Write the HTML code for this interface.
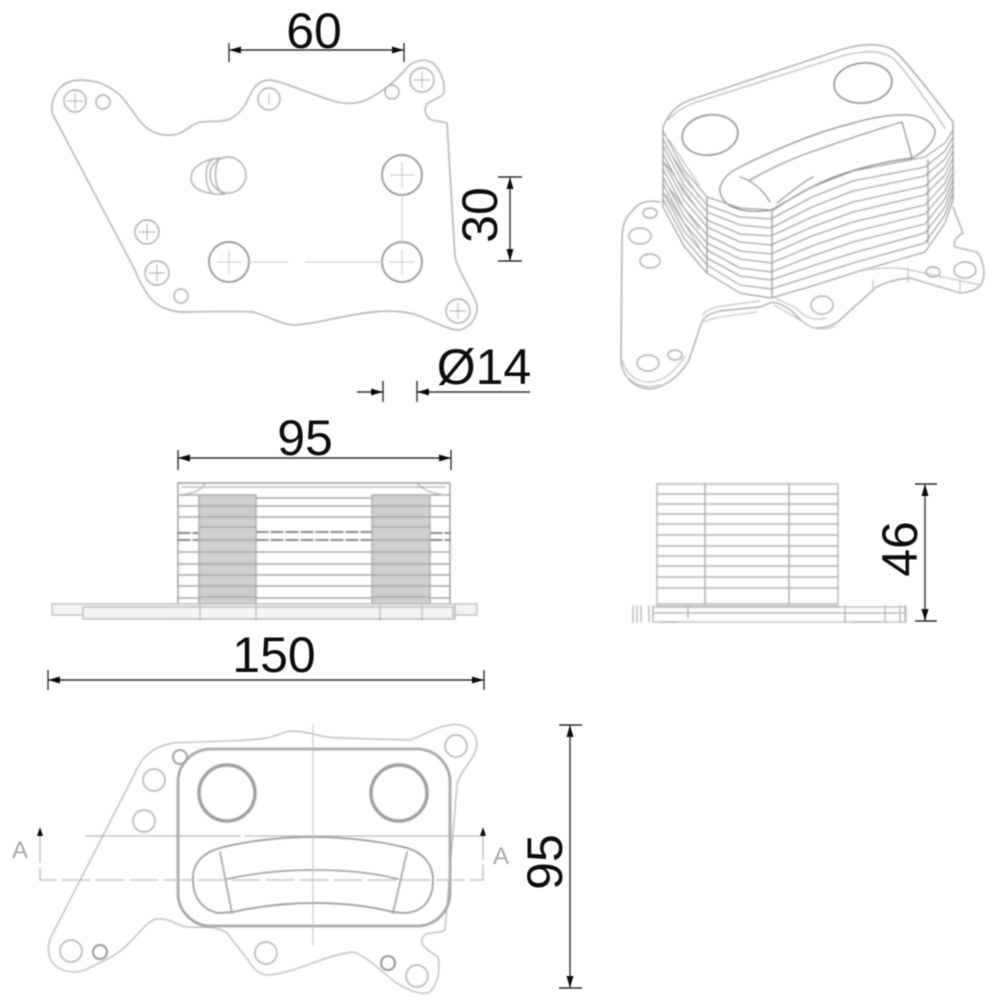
<!DOCTYPE html>
<html><head><meta charset="utf-8"><style>
html,body{margin:0;padding:0;background:#fff}
svg{display:block}
text{font-family:"Liberation Sans",sans-serif;fill:#111}
</style></head><body>
<svg width="1000" height="1000" viewBox="0 0 1000 1000" xmlns="http://www.w3.org/2000/svg">
<defs>
<filter id="b" x="-5%" y="-5%" width="110%" height="110%"><feGaussianBlur stdDeviation="0.85"/></filter>
<filter id="t" x="-5%" y="-5%" width="110%" height="110%"><feGaussianBlur stdDeviation="0.5"/></filter>
</defs>

<g filter="url(#b)" fill="none" stroke="#acacac" stroke-width="1.4" stroke-linejoin="round" stroke-linecap="round">
<!-- top plate -->
<path d="M52 105C55 88 66 80 80 80C96 80 108 85 120 95C132 108 140 125 150 130C160 136 170 136 178 134C186 131 192 124 200 122C212 121 222 122 230 119C240 114 245 106 250 95C254 86 260 80 270 80C285 82 315 96 337 102C350 105 362 103 372 97C384 90 395 82 405 70C412 60 425 58 433 63C441 70 445 82 444 92C443 98 432 99 427 104C423 110 426 118 432 120L447 123L455 257C460 275 472 290 477 305C478 318 470 327 460 330C448 330 435 322 417 315C400 310 385 311 373 312C345 315 310 325 293 325C280 324 268 316 253 312C235 311 200 312 180 312C165 310 155 305 148 295C143 287 140 283 135 270L52 113Z"/>
<circle cx="75" cy="101" r="11"/><circle cx="103" cy="102" r="7"/><circle cx="269" cy="99" r="11"/><circle cx="392" cy="92" r="7"/><circle cx="422" cy="80" r="12"/><circle cx="147" cy="232" r="12"/><circle cx="157" cy="273" r="12"/><circle cx="181" cy="296" r="7"/><circle cx="458" cy="311" r="12"/>
<path d="M67 101H83M75 93V109M414 80H430M422 72V88M139 232H155M147 224V240M149 273H165M157 265V281M450 311H466M458 303V319M269 94V104" stroke-width="0.9"/>
<g stroke="#8f8f8f" stroke-width="1.7"><circle cx="402" cy="175" r="20"/><circle cx="402" cy="262" r="20"/><circle cx="229" cy="262" r="20"/></g>
<path d="M390 175H414M402 163V187M390 262H414M402 250V274M217 262H241M229 250V274M249 262H288M305 262H382M402 195V242" stroke-width="0.9" stroke="#c4c4c4"/>
<path d="M222 158C209 158 191 165 191 178C191 190 208 195 225 194M212 160C204 165 204 185 212 193M220 158C214 166 213 184 222 193"/>
<ellipse cx="228" cy="175" rx="18" ry="18"/>

<!-- iso base plate -->
<path d="M660 202C650 200 640 201 633 210C625 218 622 225 622 240L621 360C622 375 632 388 650 389C665 388 680 375 688 362C695 345 698 330 703 320C706 315 712 313 720 311L760 307L773 302C782 304 788 308 793 312C800 320 808 327 815 328C825 328 833 326 840 320L875 288C885 282 898 279 910 278L960 293C970 292 978 290 982 283C985 275 985 262 977 252L955 247C953 242 955 238 963 233L953 207"/>
<path d="M622 360C628 378 640 383 652 382C664 380 675 372 685 356M703 315C706 309 716 307 722 306L760 301M775 298L796 308C805 318 815 321 826 318M820 281C850 270 890 265 910 270L980 285M625 375C635 385 645 389 660 385M704 322C710 318 720 317 757 312M774 305L800 320C810 328 820 332 836 326M873 280V292M908 268V282M960 280V293" stroke="#c4c4c4" stroke-width="1.2"/>
<g><ellipse cx="650" cy="213" rx="7" ry="5"/><ellipse cx="640" cy="236" rx="11" ry="8"/><ellipse cx="650" cy="261" rx="10" ry="7"/><ellipse cx="675" cy="355" rx="7" ry="5"/><ellipse cx="648" cy="363" rx="11" ry="8"/><ellipse cx="822" cy="305" rx="11" ry="9"/><ellipse cx="933" cy="272" rx="7" ry="5"/><ellipse cx="965" cy="270" rx="11" ry="8"/></g>

<!-- iso stack -->
<path fill="#fff" stroke="none" d="M663 127C670 110 680 104 690 100L840 50C860 44 880 42 893 50C905 58 945 112 953 122L953 200C950 225 945 245 930 252L770 298L740 293L707 273L663 207Z"/>
<path stroke="#a0a0a0" d="M663 127C670 110 680 104 690 100L840 50C860 44 880 42 893 50C905 58 945 112 953 122L953 200M663 127V207"/>
<g stroke="#9c9c9c" stroke-width="1.3">
<polyline points="663,131 684,170 707,197 740,208 771,210 812,187 853,171 925,157 945,143 953,130"/>
<polyline points="663,139 684,178 707,205 740,217 771,219 812,197 853,181 925,167 945,151 953,137"/>
<polyline points="663,146 684,185 707,212 740,225 771,228 812,207 853,191 925,176 945,159 953,144"/>
<polyline points="663,154 684,193 707,220 740,234 771,236 812,217 853,202 925,186 945,167 953,151"/>
<polyline points="663,161 684,200 707,227 740,242 771,245 812,227 853,212 925,195 945,175 953,158"/>
<polyline points="663,169 684,208 707,235 740,251 771,254 812,236 853,222 925,205 945,183 953,165"/>
<polyline points="663,177 684,216 707,243 740,259 771,263 812,246 853,232 925,214 945,191 953,172"/>
<polyline points="663,184 684,223 707,250 740,268 771,272 812,256 853,242 925,224 945,199 953,179"/>
<polyline points="663,192 684,231 707,258 740,276 771,280 812,266 853,253 925,233 945,207 953,186"/>
<polyline points="663,199 684,238 707,265 740,285 771,289 812,276 853,263 925,243 945,215 953,193"/>
<polyline points="663,207 684,246 707,273 740,293 771,298 812,286 853,273 925,252 945,223 953,200"/>
</g>
<path d="M669 140L699 185M666 146L699 197M666 164L699 211M665 182L699 229M666 195L699 247" stroke="#aaa" stroke-width="1.1"/>
<path d="M707 197V273M772 212V298M928 160V243" stroke="#999"/>
<path d="M668 120C680 108 690 104 700 101L842 56C865 50 880 50 893 58C905 70 930 105 945 128" stroke="#bbb"/>
<ellipse cx="710" cy="135" rx="28" ry="20" transform="rotate(-8 710 135)" stroke="#8f8f8f" stroke-width="1.8"/>
<ellipse cx="863" cy="83" rx="29" ry="20" transform="rotate(-6 863 83)" stroke="#8f8f8f" stroke-width="1.8"/>
<path d="M720 187C724 176 732 171 740 167C770 152 813 133 850 124C870 118 885 115 900 115C915 114 930 118 935 130C936 140 925 152 912 158C880 162 840 172 812 187C795 195 785 203 773 210C760 212 745 212 735 208C725 205 719 196 720 187Z" stroke="#8f8f8f" stroke-width="1.5"/>
<path d="M750 180C775 166 795 157 817 150C845 140 875 130 902 122C906 135 909 148 912 158M740 177C750 180 762 188 770 202M777 203C790 193 800 184 813 177" stroke="#8f8f8f"/>

<!-- section view -->
<rect x="178" y="483" width="272" height="121" stroke="#999"/>
<path d="M178 495H199M430 495H450M178 506H199M430 506H450M178 517H199M430 517H450M178 552H199M430 552H450M178 564H199M430 564H450M178 575H199M430 575H450M178 586H199M430 586H450M178 598H199M430 598H450M256 498H372M256 506H372M256 517H372M256 552H372M256 564H372M256 575H372M256 586H372M256 598H372" stroke="#a4a4a4"/>
<path d="M178 533H199M430 533H450M178 540H199M430 540H450M256 532H372M256 540H372" stroke="#666" stroke-width="1.5" stroke-dasharray="12 3"/>
<path d="M182 487H445M185 494C195 493 200 490 205 484M418 484C424 490 430 493 445 495" stroke="#bbb"/>
<rect x="199" y="495" width="57" height="109" fill="#cfcfcf" stroke="#aaa"/>
<rect x="372" y="495" width="58" height="109" fill="#cfcfcf" stroke="#aaa"/>
<path d="M199 506H256M199 517H256M199 527H256M199 540H256M199 552H256M199 564H256M199 575H256M199 586H256M199 597H256M372 506H430M372 517H430M372 527H430M372 540H430M372 552H430M372 564H430M372 575H430M372 586H430M372 597H430" stroke="#a0a0a0" stroke-width="1.2"/>
<rect x="52" y="604" width="425" height="11" stroke="#c0c0c0" fill="#f4f4f4"/>
<rect x="83" y="607" width="370" height="12" stroke="#bbb" fill="#f4f4f4"/>
<path d="M200 604V620M256 604V620M380 604V620M422 604V620M455 604V620M170 619H190" stroke="#bbb"/>

<!-- side view -->
<rect x="657" y="484" width="181" height="120" stroke="#b8b8b8"/>
<path d="M657 494H838M657 504H838M657 514H838M657 524H838M657 535H838M657 546H838M657 556H838M657 566H838M657 577H838M657 588H838" stroke="#b4b4b4" stroke-width="1.4"/>
<path d="M705 484V604M789 484V604" stroke="#aaa" stroke-width="1.4"/>
<rect x="656" y="604" width="183" height="4" fill="#ccc" stroke="none"/>
<rect x="653" y="607" width="253" height="15" stroke="#c4c4c4"/>
<path d="M653 613H905M633 606V622M637 606V622M641 606V622M649 606V622M653 606V622M688 606V618M845 606V622M885 606V622M900 606V622M905 606V622M660 622H678M852 622H880" stroke="#b8b8b8"/>

<!-- bottom view -->
<path d="M173 743C205 741 240 742 267 738C280 735 285 731 292 731C310 731 320 738 340 738L410 740C425 735 435 727 450 725C465 722 477 732 477 745C475 760 460 770 457 785L445 930C438 935 428 930 423 937C418 945 428 950 438 957C441 970 437 985 430 992C420 996 408 990 395 982C380 970 365 955 353 952C325 955 290 975 267 975C258 973 254 970 248 960L227 933C215 925 200 928 187 927C175 925 170 918 158 919C148 920 142 930 130 942C115 958 100 962 85 970C70 975 55 970 50 958C47 950 48 943 52 935L133 777C140 760 150 747 173 743Z" stroke="#bdbdbd"/>
<rect x="178" y="749" width="272" height="177" rx="33" ry="33" stroke="#a8a8a8" stroke-width="2.8"/>
<circle cx="227" cy="793" r="28" stroke="#a0a0a0" stroke-width="3.5"/>
<circle cx="399" cy="793" r="28" stroke="#a0a0a0" stroke-width="3.5"/>
<path d="M193 880C192 862 205 852 220 848C250 840 285 837 313 837C345 837 380 841 407 848C424 853 433 865 433 880C433 900 423 912 405 913L393 912C365 905 340 903 313 903C285 903 260 906 233 912L218 913C203 910 193 898 193 880Z" stroke="#999" stroke-width="1.7"/>
<path d="M227 879C255 873 285 870 313 870C345 870 375 873 398 879M220 852L232 913M407 852L393 913" stroke="#999" stroke-width="1.5"/>
<g><circle cx="180" cy="757" r="7" stroke="#999" stroke-width="1.8"/><circle cx="154" cy="780" r="11"/><circle cx="144" cy="821" r="11"/><circle cx="456" cy="746" r="11"/><circle cx="71" cy="951" r="11"/><circle cx="100" cy="952" r="7" stroke="#888" stroke-width="1.8"/><circle cx="266" cy="953" r="11"/><circle cx="388" cy="963" r="7" stroke="#888" stroke-width="1.8"/><circle cx="417" cy="976" r="11"/></g>
<path d="M85 836H240M245 836H480" stroke="#aaa" stroke-width="1"/>
<path d="M40 834V880H483V834" stroke="#bbb" stroke-width="1.3" stroke-dasharray="28 6"/>
<path d="M313 725V945" stroke="#c0c0c0" stroke-width="1"/>
</g>

<!-- dimensions -->
<g filter="url(#t)" stroke="#333" stroke-width="1.4" fill="none">
<path d="M229 50H404M229 43V62M404 43V62"/>
<path d="M510 177V261M498 177H522M498 261H522"/>
<path d="M357 392H383M417 392H530M383 381V402M417 381V402"/>
<path d="M178 458H451M178 450V470M451 450V470"/>
<path d="M48 680H484M48 670V690M484 670V690"/>
<path d="M925 484V621M915 484H937M915 621H937"/>
<path d="M570 725V988M559 725H582M559 988H582"/>
<g fill="#111" stroke="none">
<path d="M229 50l12-3.500v7zM404 50l-12-3.500v7z"/>
<path d="M510 177l-3.500 12h7zM510 261l-3.500-12h7z"/>
<path d="M383 392l-12-3.500v7zM417 392l12-3.500v7z"/>
<path d="M178 458l12-3.500v7zM451 458l-12-3.500v7z"/>
<path d="M48 680l12-3.500v7zM484 680l-12-3.500v7z"/>
<path d="M925 484l-3.500 12h7zM925 621l-3.500-12h7z"/>
<path d="M570 725l-3.500 12h7zM570 988l-3.500-12h7z"/>
<path d="M40 827l-3 9h6zM483 827l-3 9h6z"/>
</g>
</g>
<g filter="url(#t)">
<text x="314" y="48" font-size="50" text-anchor="middle">60</text>
<text x="305" y="455" font-size="50" text-anchor="middle">95</text>
<text x="274" y="672" font-size="50" text-anchor="middle">150</text>
<text x="484" y="384" font-size="50" text-anchor="middle">Ø14</text>
<text transform="translate(497 215) rotate(-90)" font-size="50" text-anchor="middle">30</text>
<text transform="translate(917 549) rotate(-90)" font-size="50" text-anchor="middle">46</text>
<text transform="translate(562 862) rotate(-90)" font-size="50" text-anchor="middle">95</text>
<text x="20" y="858" font-size="24" text-anchor="middle" style="fill:#aaa">A</text>
<text x="501" y="864" font-size="24" text-anchor="middle" style="fill:#aaa">A</text>
</g>
</svg>
</body></html>
